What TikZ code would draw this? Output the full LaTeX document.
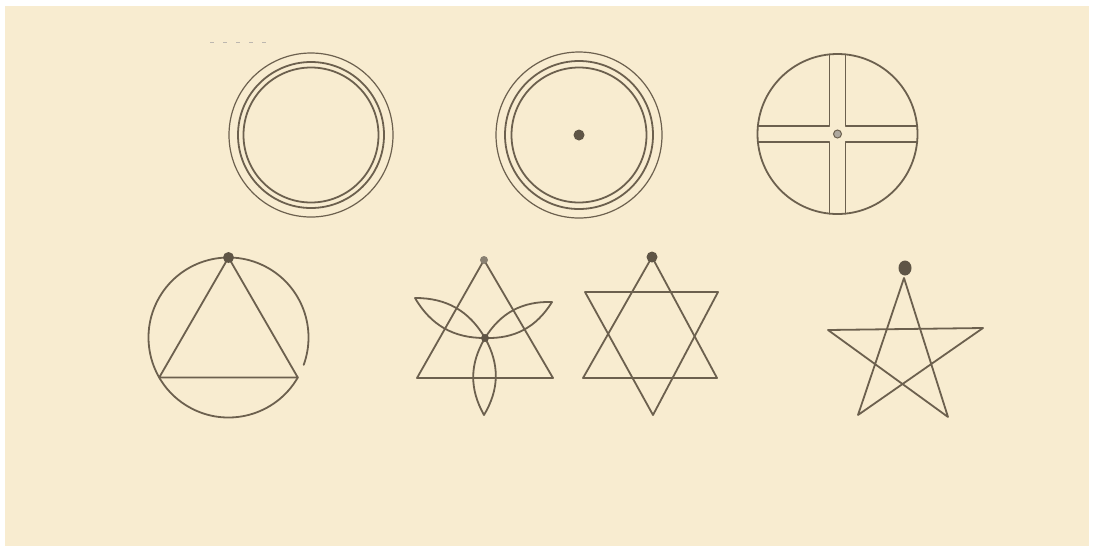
\documentclass[tikz,border=0pt]{standalone}
\usetikzlibrary{calc}
\definecolor{paper}{RGB}{248,236,208}
\definecolor{ink}{RGB}{108,96,78}
\definecolor{inkdot}{RGB}{95,85,70}
\tikzset{
  stroke/.style={draw=ink, line width=1.8pt, line join=round, line cap=round},
  thin stroke/.style={draw=ink, line width=1.2pt},
  blob/.style={fill=inkdot, draw=none},
}
\begin{document}
\begin{tikzpicture}[x=1pt,y=-1pt]
\useasboundingbox (0,0) rectangle (1094,550);
\fill[white] (0,0) rectangle (1094,550);
\fill[paper] (5,6) rectangle (1089,546);
% stray mark
\draw[ink!45, line width=0.8pt, dash pattern=on 4pt off 9pt] (210,42) -- (266,42);

% ---- circle 1: three concentric rings
\coordinate (c1) at (311,135);
\draw[thin stroke] (c1) circle[radius=82];
\draw[stroke] (c1) circle[radius=73];
\draw[stroke] (c1) circle[radius=67.5];

% ---- circle 2: rings with central dot
\coordinate (c2) at (579,135);
\draw[thin stroke] (c2) circle[radius=83];
\draw[stroke] (c2) circle[radius=74];
\draw[stroke] (c2) circle[radius=67.5];
\fill[blob] (c2) circle[radius=5.5];

% ---- circle 3: circle with cross band
\coordinate (c3) at (837.5,134);
\draw[stroke] (c3) circle[radius=80];
\foreach \sx in {-1,1}{
  \draw[stroke] ($(c3)+(\sx*8,-79.6)$) -- ($(c3)+(\sx*8,-8)$) -- ($(c3)+(\sx*79.6,-8)$);
  \draw[stroke] ($(c3)+(\sx*8,79.6)$) -- ($(c3)+(\sx*8,8)$) -- ($(c3)+(\sx*79.6,8)$);
}
\draw[ink, line width=1pt, fill=ink!55] (c3) circle[radius=4];

% ---- triangle in circle
\coordinate (c4) at (228.5,337.5);
\draw[stroke] (c4) ++(30:80) arc[start angle=30, end angle=380, radius=80];
\coordinate (t4a) at ($(c4)+(-90:80)$);
\coordinate (t4b) at ($(c4)+(150:80)$);
\coordinate (t4c) at ($(c4)+(30:80)$);
\draw[stroke] (t4a) -- (t4b) -- (t4c) -- cycle;
\fill[blob] (t4a) circle[radius=5.5];

% ---- triangle with three petals
\coordinate (t5a) at (484,260);
\coordinate (t5b) at (417,378);
\coordinate (t5c) at (553,378);
\coordinate (c5) at (485,338);
\draw[stroke] (t5a) -- (t5b) -- (t5c) -- cycle;
\coordinate (p5a) at (484,415);
\coordinate (p5b) at (415,298);
\coordinate (p5c) at (552,302);
\foreach \p in {p5a,p5b,p5c}{
  \draw[stroke] (c5) to[bend left=30] (\p) to[bend left=30] (c5);
}
\fill[blob] (c5) circle[radius=4];
\fill[ink!80] (t5a) circle[radius=4];

% ---- hexagram
\coordinate (s6a) at (652,257);
\coordinate (s6b) at (583,378);
\coordinate (s6c) at (717,378);
\coordinate (s6d) at (585,292);
\coordinate (s6e) at (718,292);
\coordinate (s6f) at (653,415);
\draw[stroke] (s6a) -- (s6b) -- (s6c) -- cycle;
\draw[stroke] (s6d) -- (s6e) -- (s6f) -- cycle;
\fill[blob] (s6a) circle[radius=5.5];

% ---- pentagram
\coordinate (s7a) at (904,278);
\coordinate (s7b) at (858,415);
\coordinate (s7c) at (983,328);
\coordinate (s7d) at (828,330);
\coordinate (s7e) at (948,417);
\draw[stroke] (s7a) -- (s7b) -- (s7c) -- (s7d) -- (s7e) -- cycle;
\fill[blob] (905,268) ellipse[x radius=6.5, y radius=7.5];
\end{tikzpicture}
\end{document}
